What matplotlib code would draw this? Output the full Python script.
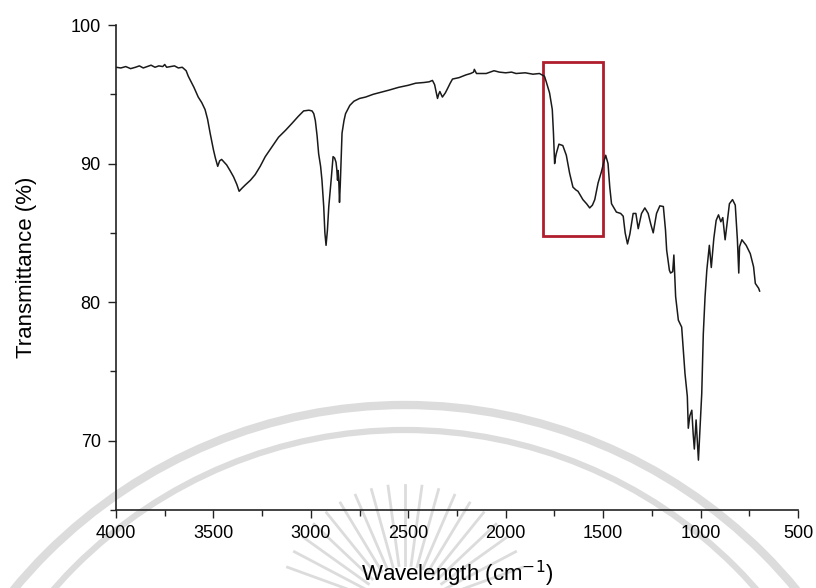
import numpy as np
import matplotlib
matplotlib.use("Agg")
import matplotlib.pyplot as plt
from matplotlib.patches import Arc, Rectangle
from matplotlib.ticker import MultipleLocator

plt.rcParams['font.family'] = ['Liberation Sans', 'DejaVu Sans']

# FTIR spectrum
wavenumber = [
    4000, 3975, 3950, 3925, 3900, 3880, 3860, 3840, 3820, 3800,
    3780, 3760, 3750, 3740, 3720, 3700, 3680, 3660, 3640, 3629,
    3600, 3578, 3560, 3543, 3530, 3517, 3500, 3490, 3478, 3468,
    3458, 3445, 3432, 3415, 3397, 3380, 3368, 3355, 3337, 3310,
    3286, 3260, 3234, 3200, 3166, 3130, 3097, 3065, 3037, 3010,
    2994, 2985, 2977, 2968, 2960, 2950, 2943, 2934, 2928, 2922,
    2915, 2908, 2896, 2886, 2878, 2871, 2867, 2863, 2860, 2856,
    2853, 2849, 2846, 2840, 2830, 2822, 2800, 2779, 2750, 2719,
    2680, 2640, 2599, 2550, 2500, 2462, 2420, 2393, 2376, 2365,
    2359, 2350, 2344, 2338, 2325, 2310, 2299, 2285, 2273, 2240,
    2204, 2180, 2165, 2161, 2150, 2145, 2100, 2060, 2033, 2000,
    1970, 1947, 1900, 1860, 1827, 1801, 1792, 1775, 1761, 1755,
    1749, 1745, 1741, 1727, 1707, 1689, 1672, 1655, 1640, 1629,
    1604, 1585, 1569, 1555, 1543, 1526, 1509, 1495, 1487, 1475,
    1466, 1457, 1432, 1410, 1397, 1387, 1375, 1363, 1346, 1332,
    1320, 1303, 1286, 1269, 1255, 1243, 1226, 1209, 1191, 1180,
    1174, 1160, 1154, 1143, 1137, 1128, 1114, 1097, 1080, 1068,
    1063, 1055, 1045, 1038, 1032, 1023, 1011, 1003, 994, 986,
    977, 968, 955, 945, 932, 920, 908, 896, 886, 874,
    862, 852, 836, 822, 811, 804, 800, 788, 766, 745,
    728, 719, 702, 697,
]
transmittance = [
    96.95, 96.9, 97.0, 96.85, 96.95, 97.05, 96.9, 97.0, 97.1, 96.95,
    97.05, 97.0, 97.15, 96.95, 97.0, 97.05, 96.9, 96.95, 96.7, 96.3,
    95.5, 94.8, 94.4, 93.9, 93.2, 92.2, 91.0, 90.4, 89.8, 90.2,
    90.3, 90.1, 89.9, 89.5, 89.05, 88.5, 88.0, 88.2, 88.45, 88.8,
    89.2, 89.8, 90.5, 91.2, 91.9, 92.4, 92.9, 93.4, 93.8, 93.85,
    93.8, 93.6, 93.1, 92.0, 90.7, 89.8, 88.8, 86.9, 85.0, 84.1,
    85.2, 86.9, 88.8, 90.5, 90.4, 90.1, 89.6, 88.8, 89.5, 88.5,
    87.2, 88.5, 89.8, 92.2, 93.1, 93.6, 94.2, 94.5, 94.7, 94.8,
    95.0, 95.15, 95.3, 95.5, 95.65, 95.8, 95.85, 95.9, 96.0, 95.7,
    95.3, 94.7, 95.0, 95.2, 94.8, 95.1, 95.4, 95.8, 96.1, 96.2,
    96.4, 96.5, 96.6, 96.8, 96.5, 96.5, 96.5, 96.7, 96.6, 96.55,
    96.6, 96.5, 96.55, 96.45, 96.5, 96.3, 95.9, 95.1, 93.9, 92.2,
    90.0, 90.4, 90.7, 91.4, 91.3, 90.6, 89.3, 88.3, 88.1, 88.0,
    87.4, 87.1, 86.8, 87.0, 87.4, 88.6, 89.4, 90.2, 90.6, 90.0,
    88.3, 87.1, 86.5, 86.4, 86.2, 85.0, 84.2, 84.9, 86.4, 86.4,
    85.3, 86.4, 86.8, 86.4, 85.6, 85.0, 86.4, 86.95, 86.9, 85.2,
    83.75, 82.3, 82.1, 82.2, 83.4, 80.4, 78.7, 78.2, 74.85, 73.2,
    70.9, 71.8, 72.2, 70.5, 69.4, 71.5, 68.6, 70.8, 73.4, 77.7,
    80.4, 82.3, 84.1, 82.5, 84.6, 85.9, 86.3, 85.8, 86.1, 84.5,
    85.9, 87.1, 87.4, 87.0, 84.5, 82.1, 84.0, 84.5, 84.1, 83.5,
    82.55, 81.35, 81.0, 80.8,
]

# highlighted region (wavenumber range, transmittance range)
box_wn = [1810, 1500]
box_t = [84.8, 97.3]

fig = plt.figure(figsize=(8.16, 5.88), dpi=100)

# faint watermark behind the chart, drawn in pixel space
bg = fig.add_axes([0, 0, 1, 1], zorder=0)
bg.set_xlim(0, 816)
bg.set_ylim(588, 0)
bg.axis('off')
wm = '#dcdcdc'
bg.add_patch(Arc((405, 912), 2 * 507, 2 * 507, theta1=180, theta2=360, color=wm, lw=6))
bg.add_patch(Arc((405, 897), 2 * 467, 2 * 467, theta1=180, theta2=360, color=wm, lw=4.5))
for ang in np.linspace(200, 340, 19):
    a = np.radians(ang)
    bg.plot([405 + 45 * np.cos(a), 405 + 125 * np.cos(a)],
            [610 + 45 * np.sin(a), 610 + 125 * np.sin(a)], color=wm, lw=2)

ax = fig.add_axes([116 / 816, 1 - 510 / 588, (798 - 116) / 816, (510 - 25) / 588], zorder=1)
ax.patch.set_alpha(0)

ax.plot(wavenumber, transmittance, color='#1a1a1a', lw=1.1)
ax.add_patch(Rectangle((box_wn[0], box_t[0]), box_wn[1] - box_wn[0], box_t[1] - box_t[0],
                       fill=False, edgecolor='#b01e2e', lw=2))

ax.set_xlim(4000, 500)
ax.set_ylim(65, 100)
ax.xaxis.set_major_locator(MultipleLocator(500))
ax.xaxis.set_minor_locator(MultipleLocator(250))
ax.yaxis.set_major_locator(MultipleLocator(10))
ax.yaxis.set_minor_locator(MultipleLocator(5))
ax.tick_params(which='major', length=6, width=1, labelsize=13, color='#222222', pad=5)
ax.tick_params(which='minor', length=4, width=1, color='#222222')

for s in ['top', 'right']:
    ax.spines[s].set_visible(False)
for s in ['left', 'bottom']:
    ax.spines[s].set_linewidth(1.2)
    ax.spines[s].set_color('#222222')

ax.set_xlabel('Wavelength (cm$^{-1}$)', fontsize=16, labelpad=12)
ax.set_ylabel('Transmittance (%)', fontsize=16, labelpad=24)

fig.savefig('out.png', dpi=100)
